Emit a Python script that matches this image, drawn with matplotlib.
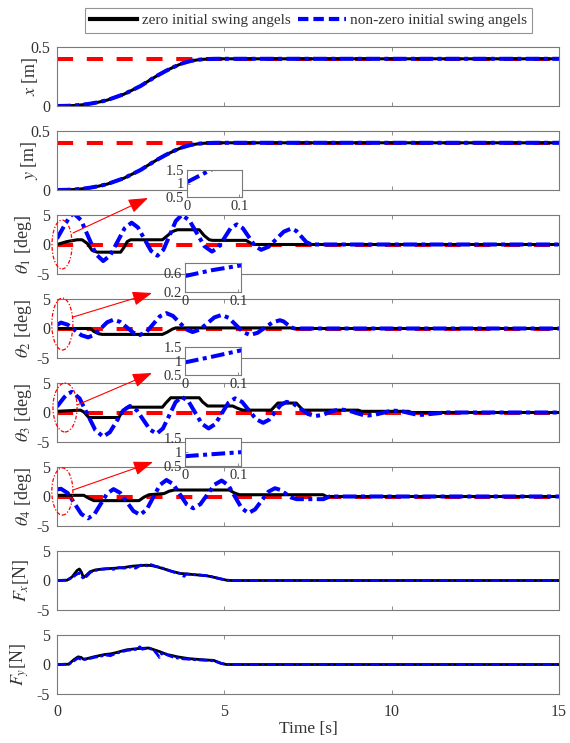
import matplotlib
matplotlib.use('Agg')
import matplotlib.pyplot as plt
from matplotlib.patches import Ellipse, FancyArrowPatch
from matplotlib.lines import Line2D

plt.rcParams['font.family'] = ['Liberation Serif', 'DejaVu Serif']
plt.rcParams['mathtext.fontset'] = 'stix'
plt.rcParams['font.size'] = 11
plt.rcParams['axes.unicode_minus'] = False

# ---------------- data ----------------
x_ref = 0.4
y_ref = 0.4
theta_ref = 0.0
t_span = [0, 15]

t_pos = [0, 0.25, 0.5, 0.75, 1.0, 1.25, 1.5, 1.75, 2.0, 2.25, 2.5, 2.75, 3.0,
         3.25, 3.5, 3.75, 4.0, 4.25, 4.5, 4.75, 15]
x_pos = [0, 0.001, 0.004, 0.010, 0.020, 0.033, 0.050, 0.075, 0.100, 0.135,
         0.170, 0.215, 0.258, 0.297, 0.332, 0.362, 0.382, 0.393, 0.398, 0.400, 0.400]
y_pos = [0, 0.001, 0.004, 0.010, 0.020, 0.033, 0.050, 0.075, 0.100, 0.135,
         0.170, 0.215, 0.258, 0.297, 0.332, 0.362, 0.382, 0.393, 0.398, 0.400, 0.400]

# theta 1
th1_zero_t = [0, 0.3, 0.6, 0.75, 0.9, 1.05, 1.2, 1.9, 2.0, 2.1, 2.2, 3.15, 3.3, 3.45,
              3.6, 4.25, 4.4, 4.55, 4.65, 5.65, 5.8, 5.9, 15]
th1_zero = [0, 0.5, 0.8, 0.8, 0.2, -1.0, -1.3, -1.3, -0.5, 0.5, 0.8, 0.8, 1.5, 2.2,
            2.5, 2.5, 1.5, 0.8, 0.7, 0.7, 0.2, 0, 0]
th1_nz_t = [0, 0.12, 0.25, 0.38, 0.5, 0.72, 0.94, 1.16, 1.38, 1.59, 1.805, 2.02, 2.23,
            2.42, 2.615, 2.81, 3.0, 3.18, 3.365, 3.55, 3.73, 3.955, 4.18, 4.405, 4.63,
            4.815, 5.0, 5.185, 5.37, 5.55, 5.735, 5.92, 6.1, 6.325, 6.55, 6.775, 7.0,
            7.15, 7.3, 7.45, 7.6, 15]
th1_nz = [1.0, 2.2, 3.5, 4.7, 5.3, 4.12, 1.25, -1.62, -2.8, -1.85, 0.45, 2.75, 3.7,
          2.88, 0.9, -1.08, -1.9, -0.89, 1.55, 3.99, 5.0, 4.09, 1.9, -0.29, -1.2,
          -0.53, 1.1, 2.73, 3.4, 2.77, 1.25, -0.27, -0.9, -0.37, 0.9, 2.17, 2.7,
          2.3, 1.35, 0.4, 0, 0]

# theta 2
th2_zero_t = [0, 1.0, 1.1, 1.25, 1.35, 3.15, 3.3, 3.45, 3.55, 7.0, 7.1, 15]
th2_zero = [0, 0, -0.5, -0.9, -1.0, -1.0, -0.6, -0.1, 0.1, 0.1, 0, 0]
th2_nz_t = [0, 0.12, 0.3225, 0.525, 0.7275, 0.93, 1.12, 1.31, 1.5, 1.69, 1.8875, 2.085,
            2.2825, 2.48, 2.6775, 2.875, 3.0725, 3.27, 3.465, 3.66, 3.855, 4.05, 4.2675,
            4.485, 4.7025, 4.92, 5.1325, 5.345, 5.5575, 5.77, 5.9925, 6.215, 6.4375,
            6.66, 6.77, 6.88, 6.99, 7.1, 15]
th2_nz = [0.6, 1.0, 0.635, -0.25, -1.135, -1.5, -1.06, 0, 1.06, 1.5, 1.12, 0.2, -0.72,
          -1.1, -0.56, 0.75, 2.06, 2.6, 2.13, 1.0, -0.13, -0.6, -0.18, 0.85, 1.88, 2.3,
          1.8, 0.6, -0.6, -1.1, -0.73, 0.15, 1.03, 1.4, 1.2, 0.7, 0.2, 0, 0]

# theta 3
th3_zero_t = [0, 0.7, 0.8, 0.95, 1.85, 1.95, 2.1, 3.15, 3.25, 3.4, 4.25, 4.35, 4.5,
              5.25, 5.4, 5.55, 6.4, 6.5, 6.6, 7.15, 7.25, 7.35, 9.0, 9.1, 10.5, 10.6, 15]
th3_zero = [0.2, 0.4, 0.1, -0.85, -0.85, 0.2, 0.9, 0.9, 1.6, 2.5, 2.5, 1.8, 1.1,
            1.1, 0.7, 0.4, 0.4, 1.0, 1.6, 1.6, 1.0, 0.4, 0.4, 0.2, 0.2, 0, 0]
th3_nz_t = [0, 0.11, 0.22, 0.33, 0.44, 0.675, 0.91, 1.145, 1.38, 1.58, 1.78, 1.98, 2.18,
            2.38, 2.58, 2.78, 2.98, 3.1675, 3.355, 3.5425, 3.73, 3.93, 4.13, 4.33, 4.53,
            4.7275, 4.925, 5.1225, 5.32, 5.53, 5.74, 5.95, 6.16, 6.335, 6.51, 6.685, 6.86,
            7.0725, 7.285, 7.4975, 7.71, 7.91, 8.1, 8.3, 8.5, 8.7, 8.9, 9.1, 9.3, 9.5,
            9.7, 9.9, 10.1, 10.3, 10.5, 10.7, 10.9, 11.25, 11.6, 15]
th3_nz = [1.0, 1.8, 2.6, 3.2, 3.5, 2.39, -0.3, -2.99, -4.1, -3.34, -1.5, 0.34, 1.1,
          0.41, -1.25, -2.91, -3.6, -2.69, -0.48, 1.74, 2.65, 1.87, -0.03, -1.92, -2.7,
          -1.96, -0.15, 1.66, 2.4, 1.79, 0.33, -1.14, -1.75, -1.23, 0.03, 1.28, 1.8,
          1.45, 0.6, -0.25, -0.6, -0.44, -0.05, 0.34, 0.5, 0.35, 0, -0.35, -0.5, -0.38,
          -0.1, 0.18, 0.3, 0.2, -0.05, -0.3, -0.4, -0.2, 0, 0]

# theta 4
th4_zero_t = [0, 0.8, 0.95, 1.1, 2.45, 2.6, 2.75, 3.2, 3.35, 3.5, 5.15, 5.3, 5.45,
              7.95, 8.05, 15]
th4_zero = [0.2, 0.2, -0.3, -0.7, -0.7, -0.1, 0.3, 0.5, 0.9, 1.1, 1.1, 0.6, 0.3,
            0.3, 0, 0]
th4_nz_t = [0, 0.12, 0.3225, 0.525, 0.7275, 0.93, 1.12, 1.31, 1.5, 1.69, 1.8875, 2.085,
            2.2825, 2.48, 2.6775, 2.875, 3.0725, 3.27, 3.47, 3.67, 3.87, 4.07, 4.2825,
            4.495, 4.7075, 4.92, 5.12, 5.32, 5.52, 5.72, 5.9175, 6.115, 6.3125, 6.51,
            6.67, 6.835, 7.0, 7.16, 7.96, 8.15, 15]
th4_nz = [1.2, 1.3, 0.57, -1.2, -2.97, -3.7, -2.98, -1.23, 0.53, 1.25, 0.61, -0.93,
          -2.46, -3.1, -2.24, -0.15, 1.94, 2.8, 2.1, 0.4, -1.3, -2.0, -1.31, 0.35, 2.01,
          2.7, 1.9, -0.05, -2.0, -2.8, -2.19, -0.7, 0.79, 1.4, 1.13, 0.48, -0.18, -0.45,
          -0.45, 0, 0]

# forces
fx_zero_t = [0, 0.3, 0.45, 0.6, 0.67, 0.73, 0.79, 0.88, 0.99, 1.15, 1.3, 1.5, 1.78, 2.0,
             2.2, 2.4, 2.68, 2.85, 3.0, 3.18, 3.4, 3.68, 3.9, 4.07, 4.3, 4.47, 4.65,
             4.87, 5.07, 5.2, 15]
fx_zero = [0, 0.05, 0.6, 1.7, 1.95, 1.4, 0.5, 0.9, 1.5, 1.8, 1.9, 2.0, 2.1, 2.2, 2.4,
           2.5, 2.6, 2.5, 2.3, 2.0, 1.6, 1.2, 1.1, 1.0, 0.9, 0.8, 0.6, 0.3, 0.05, 0, 0]
fx_nz_t = [0, 0.3, 0.45, 0.6, 0.68, 0.75, 0.8, 0.9, 1.0, 1.15, 1.3, 1.5, 1.7, 1.85, 2.0,
           2.2, 2.35, 2.5, 2.7, 2.8, 2.95, 3.1, 3.3, 3.5, 3.68, 3.8, 3.85, 4.07, 4.3,
           4.5, 4.65, 4.87, 5.07, 5.2, 15]
fx_nz = [0, 0.05, 0.5, 1.1, 1.3, 0.6, 0.3, 0.8, 1.4, 1.7, 1.9, 2.0, 1.9, 2.2, 2.1, 2.3,
         2.1, 2.6, 2.5, 2.7, 2.4, 2.2, 1.8, 1.4, 1.2, 0.7, 1.1, 1.0, 0.9, 0.8, 0.6, 0.3,
         0.05, 0, 0]
fy_zero_t = [0, 0.35, 0.5, 0.63, 0.72, 0.79, 0.9, 1.1, 1.43, 1.6, 1.76, 1.95, 2.09,
             2.25, 2.41, 2.6, 2.74, 2.9, 3.06, 3.28, 3.45, 3.6, 3.93, 4.15, 4.36, 4.5,
             4.68, 4.9, 5.06, 15]
fy_zero = [0, 0.05, 0.8, 1.3, 1.2, 0.9, 1.0, 1.3, 1.7, 1.8, 2.0, 2.3, 2.5, 2.6, 2.7,
           2.75, 2.8, 2.5, 2.2, 1.7, 1.5, 1.3, 1.0, 0.9, 0.8, 0.75, 0.7, 0.2, 0, 0]
fy_nz_t = [0, 0.35, 0.5, 0.63, 0.75, 0.9, 1.1, 1.3, 1.45, 1.6, 1.76, 1.95, 2.1, 2.25,
           2.4, 2.47, 2.55, 2.74, 2.9, 3.0, 3.06, 3.12, 3.2, 3.3, 3.5, 3.7, 3.93, 4.15,
           4.36, 4.55, 4.7, 4.9, 5.06, 15]
fy_nz = [0, 0.05, 0.6, 1.1, 0.8, 0.9, 1.2, 1.4, 1.6, 1.5, 1.9, 2.2, 2.4, 2.5, 2.6, 3.0,
         2.6, 2.8, 2.4, 1.7, 1.2, 1.8, 2.0, 1.6, 1.2, 1.0, 0.9, 0.8, 0.75, 0.7, 0.6, 0.2,
         0, 0]

# inset zooms (first 0.11 s of the non-zero case)
ins_t = [0, 0.05, 0.11]
ins1 = [1.05, 1.55, 2.1]
ins2 = [0.53, 0.65, 0.76]
ins3 = [0.95, 1.15, 1.4]
ins4 = [0.85, 0.92, 1.0]

xticks = [0, 5, 10, 15]
legend_labels = ['zero initial swing angels', 'non-zero initial swing angels']
ylabels = [r'$x$ [m]', r'$y$ [m]', r'$\theta_1$ [deg]', r'$\theta_2$ [deg]',
           r'$\theta_3$ [deg]', r'$\theta_4$ [deg]', r'$F_x$[N]', r'$F_y$[N]']
xlabel = 'Time [s]'

# ---------------- styling ----------------
W, H = 570, 743
fig = plt.figure(figsize=(5.7, 7.43), dpi=100)
AX_COL = '#7a7a7a'
TXT_COL = '#333333'
RED = '#ff0000'
BLUE = '#0000ff'
BLUE_DASH = (0, (3.4, 1.1, 1.0, 1.1))
RED_DASH = (0, (4.0, 3.4))


def px_axes(left, top, right, bottom):
    return fig.add_axes([left / W, 1 - bottom / H, (right - left) / W, (bottom - top) / H])


def style(ax, yt, ylim, lab, label_x, show_x=False):
    ax.set_xlim(0, 15)
    ax.set_ylim(*ylim)
    ax.set_yticks(yt)
    ax.set_yticklabels([('%g' % v) for v in yt])
    ax.set_xticks(xticks)
    ax.tick_params(direction='in', length=3, width=0.6, colors=AX_COL,
                   labelcolor=TXT_COL, top=True, right=True, pad=5, labelsize=11.5)
    ax.tick_params(axis='x', pad=7)
    if not show_x:
        ax.set_xticklabels([])
    for s in ax.spines.values():
        s.set_color(AX_COL)
        s.set_linewidth(0.8)
    ax.set_ylabel(lab, color=TXT_COL, fontsize=13)
    ax.yaxis.set_label_coords(label_x, 0.5)


left, right = 57, 559
tops = [47, 131, 215, 299, 383, 467, 551, 635]
hgt = 59
axes = [px_axes(left, t, right, t + hgt) for t in tops]

LW_B = 2.2
LW_BL = 2.9

# x, y
for ax, ref, tt, vv in [(axes[0], x_ref, t_pos, x_pos), (axes[1], y_ref, t_pos, y_pos)]:
    ax.plot(t_span, [ref, ref], color=RED, lw=2.9, linestyle=RED_DASH)
    ax.plot(tt, vv, color='black', lw=LW_B)
    ax.plot(tt, vv, color=BLUE, lw=LW_BL, linestyle=BLUE_DASH)

# thetas
th_data = [(th1_zero_t, th1_zero, th1_nz_t, th1_nz),
           (th2_zero_t, th2_zero, th2_nz_t, th2_nz),
           (th3_zero_t, th3_zero, th3_nz_t, th3_nz),
           (th4_zero_t, th4_zero, th4_nz_t, th4_nz)]
for ax, (zt, zv, nt, nv) in zip(axes[2:6], th_data):
    ax.plot(t_span, [theta_ref, theta_ref], color=RED, lw=2.9, linestyle=RED_DASH)
    ax.plot(zt, zv, color='black', lw=LW_B)
    ax.plot(nt, nv, color=BLUE, lw=LW_BL, linestyle=BLUE_DASH)

# forces
for ax, (zt, zv, nt, nv) in zip(axes[6:], [(fx_zero_t, fx_zero, fx_nz_t, fx_nz),
                                           (fy_zero_t, fy_zero, fy_nz_t, fy_nz)]):
    ax.plot(zt, zv, color='black', lw=2.0)
    ax.plot(nt, nv, color=BLUE, lw=2.0, linestyle=(0, (3.2, 1.0, 1.0, 1.0)))

for i, ax in enumerate(axes):
    if i < 2:
        style(ax, [0, 0.5], (0, 0.5), ylabels[i], -0.033)
    elif i < 6:
        style(ax, [-5, 0, 5], (-5, 5), ylabels[i], -0.046)
    else:
        style(ax, [-5, 0, 5], (-5, 5), ylabels[i], -0.052, show_x=(i == 7))
axes[7].set_xlabel(xlabel, color=TXT_COL, fontsize=12.5, labelpad=1)

# ellipses around the initial part
ell = [(0.15, 0.0, 0.6, 8.3), (0.16, 0.75, 0.63, 8.8), (0.24, 0.85, 0.72, 8.3),
       (0.16, 0.85, 0.63, 8.0)]
for ax, (cx, cy, w, h) in zip(axes[2:6], ell):
    e = Ellipse((cx, cy), w, h, fill=False, edgecolor=RED, lw=0.9,
                linestyle=(0, (3, 1.5, 1, 1.5)), clip_on=False, zorder=5)
    ax.add_patch(e)

# insets
inset_boxes = [(187, 170, 242, 197), (185, 263, 241, 292), (185, 347, 241, 375),
               (185, 438, 241, 466)]
inset_data = [ins1, ins2, ins3, ins4]
inset_ylim = [(0.5, 1.5), (0.2, 0.8), (0.5, 1.5), (0.5, 1.5)]
inset_yt = [[0.5, 1, 1.5], [0.2, 0.6], [0.5, 1, 1.5], [0.5, 1, 1.5]]
for (l, t, r, b), dv, yl, yt in zip(inset_boxes, inset_data, inset_ylim, inset_yt):
    ia = px_axes(l, t, r, b)
    ia.plot(ins_t, dv, color=BLUE, lw=LW_BL, linestyle=BLUE_DASH)
    ia.set_xlim(0, 0.105)
    ia.set_ylim(*yl)
    ia.set_yticks(yt)
    ia.set_yticklabels([('%g' % v) for v in yt])
    ia.set_xticks([0, 0.1])
    ia.set_xticklabels(['0', '0.1'])
    ia.tick_params(direction='in', length=2, width=0.6, colors=AX_COL,
                   labelcolor=TXT_COL, labelsize=10.5, pad=2)
    for s in ia.spines.values():
        s.set_color(AX_COL)
        s.set_linewidth(0.8)

# arrows
arrows = [((73, 233), (148, 198)), ((73, 317), (152, 293)), ((77, 405), (152, 373)),
          ((73, 490), (153, 462))]
for (x0, y0), (x1, y1) in arrows:
    a = FancyArrowPatch((x0 / W, 1 - y0 / H), (x1 / W, 1 - y1 / H),
                        transform=fig.transFigure,
                        arrowstyle='-|>,head_length=0.6,head_width=0.22',
                        mutation_scale=20, color=RED, lw=0.8, shrinkA=0, shrinkB=0)
    fig.add_artist(a)

# legend
handles = [Line2D([], [], color='black', lw=3),
           Line2D([], [], color=BLUE, lw=3, linestyle=(0, (2.5, 1.2)))]
leg = fig.legend(handles, legend_labels, loc='center', ncol=2,
                 bbox_to_anchor=((85 + 532) / 2 / W, 1 - 20.5 / H),
                 frameon=True, fancybox=False, handlelength=3.1, handletextpad=0.3,
                 columnspacing=0.5, borderpad=0.35, fontsize=11)
leg.get_frame().set_edgecolor(AX_COL)
leg.get_frame().set_linewidth(0.8)
for txt in leg.get_texts():
    txt.set_color(TXT_COL)

fig.savefig('out.png', dpi=100)
